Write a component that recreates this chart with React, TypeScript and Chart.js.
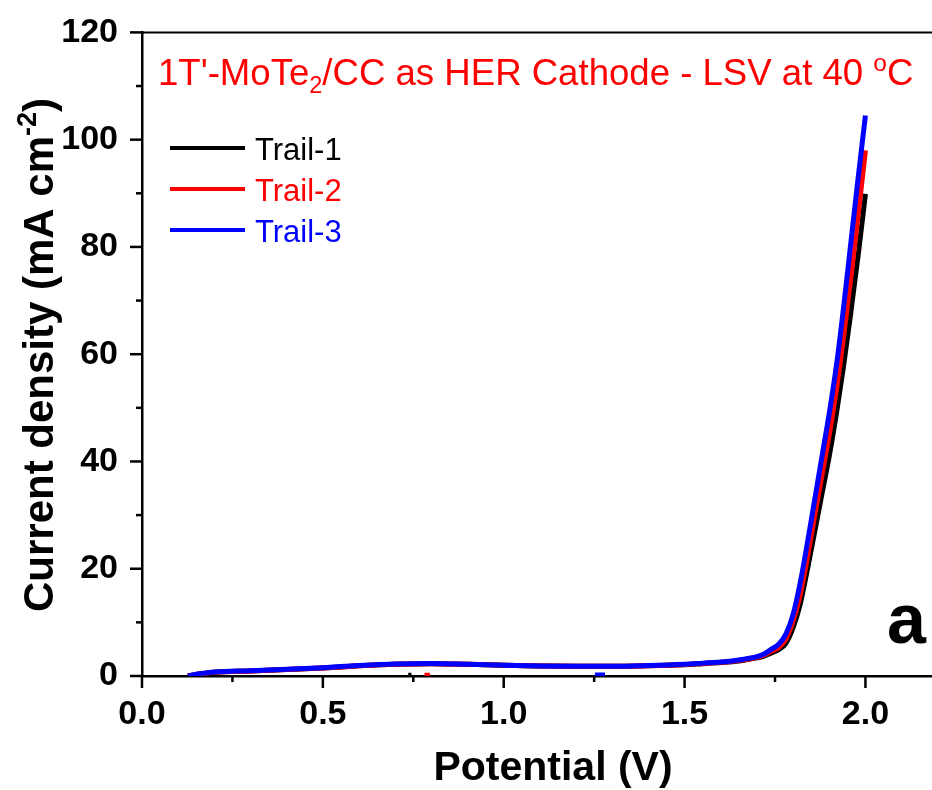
import React, { useEffect, useRef } from 'react';
import { Chart, registerables } from 'chart.js';

Chart.register(...registerables);

// ---- data ----
const potential = [0.127, 0.15, 0.18, 0.2, 0.3, 0.4, 0.5, 0.6, 0.7, 0.8, 0.9, 1.0, 1.1, 1.2, 1.3, 1.4, 1.5, 1.55, 1.6, 1.65, 1.7, 1.72, 1.74, 1.76, 1.78, 1.8, 1.82, 1.84, 1.86, 1.88, 1.9, 1.92, 1.94, 1.96, 1.98, 2.0];
const trail1 = [0, 0.3, 0.55, 0.7, 0.95, 1.2, 1.5, 1.9, 2.2, 2.3, 2.2, 2.0, 1.85, 1.8, 1.8, 1.9, 2.1, 2.3, 2.5, 2.8, 3.4, 3.7, 4.3, 4.9, 6.1, 9.0, 13.5, 20.0, 27.0, 34.0, 41.0, 49.0, 58.0, 68.0, 78.5, 89.9];
const trail2 = [0, 0.3, 0.55, 0.7, 0.95, 1.2, 1.5, 1.9, 2.2, 2.3, 2.2, 2.0, 1.85, 1.8, 1.8, 1.9, 2.15, 2.35, 2.55, 2.9, 3.5, 3.9, 4.6, 5.3, 6.9, 10.3, 15.3, 22.3, 30.0, 37.5, 45.0, 53.5, 63.5, 74.5, 86.0, 98.0];
const trail3 = [0, 0.35, 0.6, 0.75, 1.0, 1.25, 1.55, 1.95, 2.25, 2.35, 2.2, 2.0, 1.85, 1.8, 1.8, 1.95, 2.2, 2.4, 2.6, 3.0, 3.6, 4.1, 5.0, 5.9, 7.8, 11.5, 17.5, 25.0, 33.0, 41.0, 49.0, 58.0, 69.0, 81.0, 93.0, 104.5];

// small stray segments near zero
const blip1Potential = [0.736, 0.745];
const blip1Value = [0.15, 0.15];
const blip2Potential = [0.781, 0.796];
const blip2Value = [0.15, 0.15];
const blip3Potential = [1.252, 1.28];
const blip3Value = [0.2, 0.2];

const seriesNames = ['Trail-1', 'Trail-2', 'Trail-3'];
const seriesColors = ['#000000', '#ff0000', '#0000ff'];

const xMajorTicks = [0, 0.5, 1.0, 1.5, 2.0];
const xMinorTicks = [0.25, 0.75, 1.25, 1.75];
const yMajorTicks = [0, 20, 40, 60, 80, 100, 120];
const yMinorTicks = [10, 30, 50, 70, 90, 110];

const FONT = '"Liberation Sans", Arial, Helvetica, sans-serif';

function pts(xs: number[], ys: number[]) {
  return xs.map((x, i) => ({ x, y: ys[i] }));
}

export default function App() {
  const ref = useRef<HTMLCanvasElement>(null);

  useEffect(() => {
    document.body.style.margin = '0';
    const canvas = ref.current!;

    const decor = {
      id: 'decor',
      afterDraw(chart: any) {
        const { ctx, chartArea: ca } = chart;
        const xs = chart.scales.x;
        const ys = chart.scales.y;
        ctx.save();
        ctx.strokeStyle = '#000';
        ctx.lineCap = 'butt';
        // top frame line
        ctx.lineWidth = 2;
        ctx.beginPath();
        ctx.moveTo(ca.left, ca.top);
        ctx.lineTo(ca.right, ca.top);
        ctx.stroke();
        // ticks
        ctx.lineWidth = 2.5;
        const drawX = (v: number, len: number) => {
          const px = xs.getPixelForValue(v);
          ctx.beginPath();
          ctx.moveTo(px, ca.bottom);
          ctx.lineTo(px, ca.bottom + len);
          ctx.stroke();
        };
        const drawY = (v: number, len: number) => {
          const py = ys.getPixelForValue(v);
          ctx.beginPath();
          ctx.moveTo(ca.left, py);
          ctx.lineTo(ca.left - len, py);
          ctx.stroke();
        };
        xMajorTicks.forEach((v) => drawX(v, 12));
        xMinorTicks.forEach((v) => drawX(v, 6));
        yMajorTicks.forEach((v) => drawY(v, 12));
        yMinorTicks.forEach((v) => drawY(v, 6));

        // legend
        ctx.textBaseline = 'alphabetic';
        ctx.textAlign = 'left';
        seriesNames.forEach((name, i) => {
          const ly = 148 + i * 41;
          ctx.strokeStyle = seriesColors[i];
          ctx.lineWidth = 4;
          ctx.beginPath();
          ctx.moveTo(170, ly);
          ctx.lineTo(245, ly);
          ctx.stroke();
          ctx.fillStyle = seriesColors[i];
          ctx.font = `31px ${FONT}`;
          ctx.fillText(name, 255, ly + 12);
        });

        // red annotation title
        ctx.fillStyle = '#ff0000';
        let tx = 158;
        const base = 85;
        const part = (t: string, size: number, dy: number) => {
          ctx.font = `${size}px ${FONT}`;
          ctx.fillText(t, tx, base + dy);
          tx += ctx.measureText(t).width;
        };
        part("1T'-MoTe", 36.6, 0);
        part('2', 23.5, 8);
        part('/CC as HER Cathode - LSV at 40 ', 36.6, 0);
        part('o', 24.5, -14);
        part('C', 36.6, 0);

        // panel label
        ctx.fillStyle = '#000';
        ctx.font = `bold 70px ${FONT}`;
        ctx.fillText('a', 887, 643);

        // x axis title
        ctx.font = `bold 41px ${FONT}`;
        ctx.textAlign = 'center';
        ctx.fillText('Potential (V)', 553, 780);

        // y axis title (rotated)
        ctx.save();
        ctx.translate(53, 355);
        ctx.rotate(-Math.PI / 2);
        ctx.textAlign = 'left';
        const big = `bold 42px ${FONT}`;
        const small = `bold 27px ${FONT}`;
        const t1 = 'Current density (mA cm';
        const t2 = '-2';
        const t3 = ')';
        ctx.font = big;
        const w1 = ctx.measureText(t1).width;
        const w3 = ctx.measureText(t3).width;
        ctx.font = small;
        const w2 = ctx.measureText(t2).width;
        let cx = -(w1 + w2 + w3) / 2;
        ctx.font = big;
        ctx.fillText(t1, cx, 0);
        cx += w1;
        ctx.font = small;
        ctx.fillText(t2, cx, -17);
        cx += w2;
        ctx.font = big;
        ctx.fillText(t3, cx, 0);
        ctx.restore();

        ctx.restore();
      },
    };

    const lineDs = (label: string, xs: number[], ys: number[], color: string, order: number) => ({
      label,
      data: pts(xs, ys),
      borderColor: color,
      backgroundColor: color,
      borderWidth: 5,
      pointRadius: 0,
      showLine: true,
      fill: false,
      cubicInterpolationMode: 'monotone' as const,
      order,
    });

    const chart = new Chart(canvas, {
      type: 'scatter',
      data: {
        datasets: [
          lineDs(seriesNames[0], potential, trail1, seriesColors[0], 3),
          lineDs(seriesNames[1], potential, trail2, seriesColors[1], 2),
          lineDs(seriesNames[2], potential, trail3, seriesColors[2], 1),
          lineDs('b1', blip1Potential, blip1Value, seriesColors[0], 3),
          lineDs('b2', blip2Potential, blip2Value, seriesColors[1], 2),
          lineDs('b3', blip3Potential, blip3Value, seriesColors[2], 1),
        ],
      },
      options: {
        responsive: false,
        animation: false,
        devicePixelRatio: 1,
        layout: { padding: { top: 32, right: 0, left: 0, bottom: 0 } },
        plugins: {
          legend: { display: false },
          tooltip: { enabled: false },
          title: { display: false },
        },
        scales: {
          x: {
            type: 'linear',
            min: 0,
            max: 2.184,
            afterBuildTicks: (scale: any) => {
              scale.ticks = xMajorTicks.map((v) => ({ value: v }));
            },
            afterFit: (scale: any) => {
              scale.height = 114;
            },
            grid: { display: false, drawTicks: true, tickLength: 12 },
            border: { display: true, color: '#000', width: 2.5 },
            ticks: {
              color: '#000',
              font: { family: FONT, size: 34, weight: 'bold' },
              padding: 6,
              maxRotation: 0,
              autoSkip: false,
              callback: (v: any) => Number(v).toFixed(1),
            },
          },
          y: {
            type: 'linear',
            min: 0,
            max: 120,
            afterBuildTicks: (scale: any) => {
              scale.ticks = yMajorTicks.map((v) => ({ value: v }));
            },
            afterFit: (scale: any) => {
              scale.width = 142;
            },
            grid: { display: false, drawTicks: true, tickLength: 12 },
            border: { display: true, color: '#000', width: 2.5 },
            ticks: {
              color: '#000',
              font: { family: FONT, size: 34, weight: 'bold' },
              padding: 12,
              autoSkip: false,
              callback: (v: any) => String(v),
            },
          },
        },
      },
      plugins: [decor],
    });

    return () => chart.destroy();
  }, []);

  return (
    <div style={{ width: 932, height: 790 }}>
      <canvas ref={ref} width={932} height={790} style={{ display: 'block' }} />
    </div>
  );
}
